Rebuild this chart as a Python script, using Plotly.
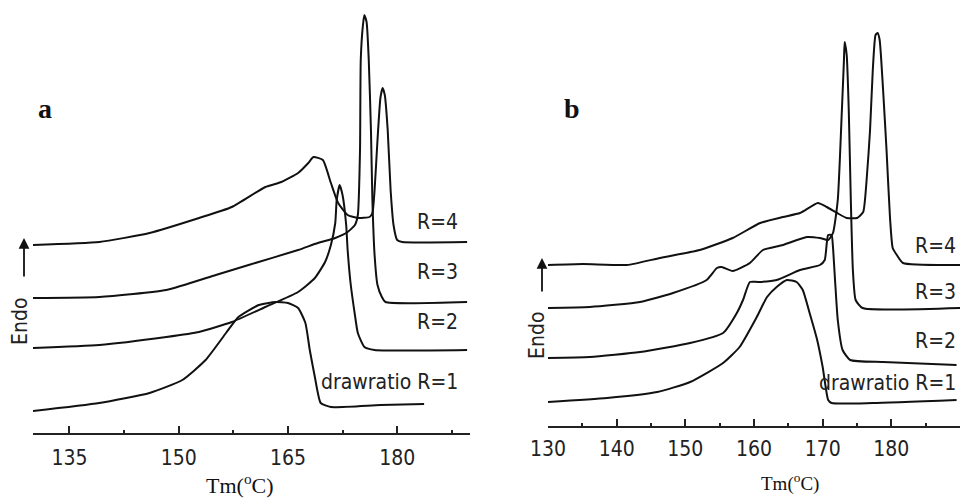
import plotly.graph_objects as go

# ---------------- data (temperature in °C, heat flow in arbitrary units, offset curves) ----------
A_R1_T = [130.0, 139.1, 146.0, 150.5, 153.7, 156.5, 158.2, 161.0, 163.3, 165.0, 166.4, 167.4, 168.0, 168.7, 169.5, 170.9, 177.7, 183.7]
A_R1_V = [2.2, 3.0, 4.0, 5.3, 7.3, 10.0, 11.6, 12.8, 13.1, 13.0, 12.5, 11.0, 8.3, 5.6, 3.0, 2.6, 2.8, 2.9]

A_R2_T = [130.0, 139.1, 148.3, 152.8, 157.3, 161.9, 166.4, 168.7, 170.1, 170.9, 171.5, 171.7, 172.1, 172.5, 173.0, 173.2, 173.6, 174.2, 174.6, 175.5, 176.9, 189.6]
A_R2_V = [8.5, 8.8, 9.6, 10.1, 11.1, 12.6, 14.1, 15.5, 17.1, 18.8, 21.0, 23.3, 24.8, 23.8, 20.8, 18.3, 15.0, 11.8, 10.0, 8.6, 8.3, 8.3]

A_R3_T = [130.0, 139.1, 148.3, 155.1, 159.6, 166.4, 169.1, 171.5, 173.2, 174.2, 174.6, 174.9, 175.0, 175.3, 175.5, 175.8, 176.1, 176.4, 176.6, 176.9, 177.3, 177.9, 178.4, 189.6]
A_R3_V = [13.5, 13.6, 14.3, 15.8, 16.8, 18.3, 19.0, 19.5, 20.1, 20.8, 21.8, 28.3, 37.3, 40.8, 41.8, 41.1, 37.3, 30.3, 23.3, 17.8, 14.8, 13.6, 13.1, 13.1]

A_R4_T = [130.0, 139.1, 146.0, 152.8, 157.3, 161.9, 164.1, 166.4, 167.8, 168.5, 169.8, 170.9, 171.9, 173.2, 174.6, 176.2, 176.6, 176.9, 177.3, 177.7, 178.0, 178.3, 178.7, 179.1, 179.5, 180.0, 180.7, 189.6]
A_R4_V = [18.8, 19.1, 20.0, 21.5, 22.6, 24.6, 25.1, 26.0, 27.0, 27.6, 27.3, 25.0, 23.0, 21.8, 21.5, 21.6, 22.0, 24.3, 29.3, 33.5, 34.5, 33.8, 30.3, 24.3, 20.8, 19.3, 19.1, 19.1]

B_R1_T = [130.0, 138.6, 145.9, 150.7, 155.5, 157.9, 160.4, 161.9, 163.3, 164.8, 166.2, 167.1, 168.1, 169.2, 170.0, 170.8, 171.3, 177.3, 189.5]
B_R1_V = [2.4, 2.8, 3.4, 4.4, 6.3, 7.9, 10.9, 12.9, 13.9, 14.6, 14.4, 13.6, 11.3, 8.6, 5.9, 2.6, 2.3, 2.3, 2.6]

B_R2_T = [130.0, 136.1, 143.4, 150.7, 155.5, 157.5, 158.4, 159.4, 160.6, 163.3, 166.7, 169.6, 170.3, 170.6, 170.8, 171.3, 171.5, 171.8, 172.2, 172.9, 174.0, 178.8, 189.5]
B_R2_V = [6.8, 6.9, 7.4, 8.3, 9.3, 11.3, 12.6, 14.4, 14.4, 14.6, 15.6, 16.1, 16.6, 18.3, 19.1, 19.1, 17.9, 14.6, 10.6, 7.6, 6.6, 6.4, 6.1]

B_R3_T = [130.0, 136.1, 143.4, 148.2, 153.1, 154.6, 155.3, 156.9, 159.4, 161.3, 164.2, 167.7, 169.6, 170.8, 171.5, 172.2, 172.8, 173.1, 173.2, 173.5, 173.8, 174.1, 174.4, 174.8, 175.8, 190.0]
B_R3_V = [11.8, 11.9, 12.4, 13.3, 14.6, 15.8, 15.9, 15.5, 16.3, 17.6, 18.1, 18.9, 18.8, 18.6, 19.3, 22.6, 31.6, 36.6, 38.4, 37.1, 31.6, 22.6, 15.6, 12.6, 11.8, 11.8]

B_R4_T = [130.0, 135.1, 141.5, 146.3, 152.1, 156.9, 160.9, 164.2, 166.7, 169.3, 170.6, 172.1, 173.5, 175.0, 175.9, 176.4, 176.9, 177.3, 177.7, 178.0, 178.3, 178.8, 179.3, 179.8, 180.2, 180.8, 181.7, 190.0]
B_R4_V = [16.1, 16.2, 16.1, 16.8, 17.6, 18.8, 20.3, 20.9, 21.3, 22.3, 21.9, 21.3, 20.8, 20.8, 21.4, 24.6, 29.6, 35.6, 39.1, 39.3, 38.6, 33.6, 27.6, 20.9, 17.8, 17.1, 16.3, 16.1]

CURVE_LABELS = ["drawratio R=1", "R=2", "R=3", "R=4"]
PANEL_LABELS = ["a", "b"]
A_TICKS = [135, 150, 165, 180]
B_TICKS = [130, 140, 150, 160, 170, 180, 190]
X_TITLE = "Tm(<sup>o</sup>C)"
Y_TITLE = "Endo"

# ---------------- figure ----------------
W, H = 975, 502
fig = go.Figure()

panel_a = [(A_R1_T, A_R1_V), (A_R2_T, A_R2_V), (A_R3_T, A_R3_V), (A_R4_T, A_R4_V)]
panel_b = [(B_R1_T, B_R1_V), (B_R2_T, B_R2_V), (B_R3_T, B_R3_V), (B_R4_T, B_R4_V)]

line = dict(color="#111111", width=2, shape="spline", smoothing=0.5)
for (t, v), name in zip(panel_a, CURVE_LABELS):
    fig.add_trace(go.Scatter(x=t, y=v, mode="lines", line=line, name=name,
                             xaxis="x", yaxis="y", showlegend=False))
for (t, v), name in zip(panel_b, CURVE_LABELS):
    fig.add_trace(go.Scatter(x=t, y=v, mode="lines", line=line, name=name,
                             xaxis="x2", yaxis="y2", showlegend=False))

narrow = "DejaVu Sans Condensed, Liberation Sans, sans-serif"
serif = "Liberation Serif, Times New Roman, serif"

def xaxis(domain, rng, ticks, minor_dtick, anchor, font_size, standoff):
    return dict(domain=domain, range=rng, anchor=anchor, automargin=False,
                tickmode="array", tickvals=ticks, ticktext=[str(t) for t in ticks],
                ticks="inside", ticklen=7, tickwidth=1.5, tickcolor="#222",
                minor=dict(ticks="inside", ticklen=3, tickwidth=1.5, tickcolor="#222",
                           dtick=minor_dtick, tick0=ticks[0]),
                showline=True, linecolor="#222", linewidth=2,
                showgrid=False, zeroline=False,
                tickfont=dict(family=narrow, size=font_size, color="#222"),
                ticklabelstandoff=standoff, fixedrange=True)

a_dom = [33 / W, 470 / W]
b_dom = [548 / W, 960 / W]
ya_dom = [1 - 433 / H, 1]
yb_dom = [1 - 426 / H, 1]

fig.update_layout(
    width=W, height=H, margin=dict(l=0, r=0, t=0, b=0, autoexpand=False),
    paper_bgcolor="white", plot_bgcolor="white",
    xaxis=xaxis(a_dom, [130, 190], A_TICKS, 7.5, "y", 21, 5),
    yaxis=dict(domain=ya_dom, range=[0, 43.3], visible=False, fixedrange=True, automargin=False),
    xaxis2=xaxis(b_dom, [130, 190], B_TICKS, 5, "y2", 21, 3),
    yaxis2=dict(domain=yb_dom, range=[0, 42.6], visible=False, fixedrange=True, automargin=False),
)

ann = []
# curve labels at the right end of each curve
for (t, v), name, off in zip(panel_a, CURVE_LABELS, [2.2, 2.8, 3.0, 2.0]):
    ann.append(dict(x=188.6, y=v[-1] + off, xref="x", yref="y", text=name,
                    xanchor="right", yanchor="middle", showarrow=False,
                    font=dict(family=narrow, size=21, color="#222")))
for (t, v), name, off in zip(panel_b, CURVE_LABELS, [1.7, 2.4, 1.6, 1.9]):
    ann.append(dict(x=189.7, y=v[-1] + off, xref="x2", yref="y2", text=name,
                    xanchor="right", yanchor="middle", showarrow=False,
                    font=dict(family=narrow, size=21, color="#222")))

def centered(x, y, text, font, angle=0):
    return dict(x=x / W, y=1 - y / H, xref="paper", yref="paper", text=text,
                xanchor="center", yanchor="middle", textangle=angle,
                showarrow=False, font=font)

# panel letters
ann.append(centered(45, 108, "<b>%s</b>" % PANEL_LABELS[0], dict(family=serif, size=28, color="#111")))
ann.append(centered(572, 108, "<b>%s</b>" % PANEL_LABELS[1], dict(family=serif, size=28, color="#111")))

# axis titles
ann.append(centered(240, 484, X_TITLE, dict(family=serif, size=22, color="#111")))
ann.append(centered(790, 482, X_TITLE, dict(family=serif, size=19, color="#111")))

# Endo labels (rotated) and arrows
ann.append(centered(20, 322, Y_TITLE, dict(family=narrow, size=21, color="#222"), -90))
ann.append(centered(537, 336, Y_TITLE, dict(family=narrow, size=21, color="#222"), -90))
for xp, ytip, ylen in [(24, 238, 40), (542, 258, 35)]:
    ann.append(dict(x=xp / W, y=1 - ytip / H, xref="paper", yref="paper", text="",
                    showarrow=True, ax=0, ay=ylen, arrowhead=2, arrowsize=1.2,
                    arrowwidth=1.8, arrowcolor="#111"))

fig.update_layout(annotations=ann)
fig.write_html("out.html")
